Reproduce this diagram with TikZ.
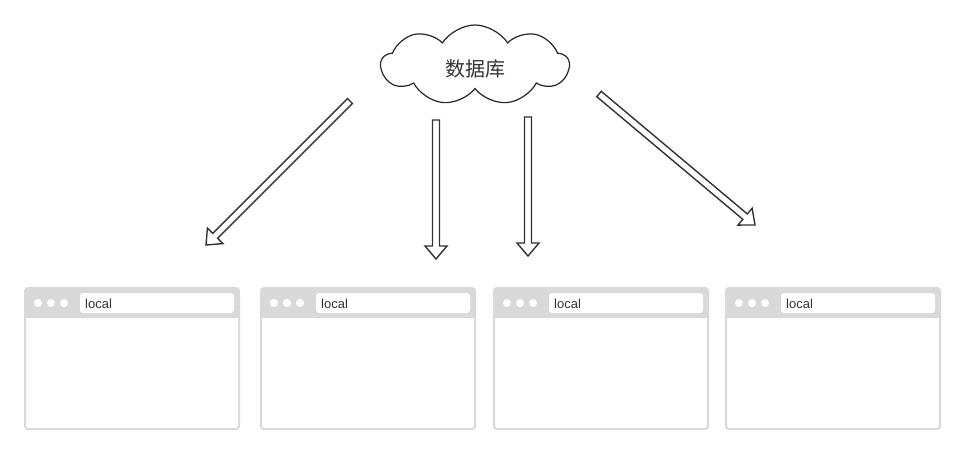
\documentclass[tikz,border=0pt]{standalone}
\usepackage{fontspec}
\setmainfont{Liberation Sans}
\newfontfamily\cjk{Noto Sans CJK SC}
\usetikzlibrary{shapes.symbols,calc}

\definecolor{framegray}{HTML}{D9D9D9}
\definecolor{inkgray}{HTML}{333333}

\tikzset{
  window/.style={draw=framegray, line width=2pt, rounded corners=3pt,
    minimum width=214pt, minimum height=141pt, inner sep=0pt},
  bar/.style={fill=framegray},
  urlfield/.style={fill=white, rounded corners=3pt},
  urltext/.style={anchor=west, inner sep=0pt, text=inkgray,
    font=\fontsize{13}{15}\selectfont},
  dbcloud/.style={cloud, cloud puffs=9, cloud puff arc=115, aspect=2.4,
    draw=black!85, line width=1.2pt, minimum width=188pt, minimum height=80pt,
    text height=26pt, text depth=3pt,
    text=inkgray, font=\cjk\fontsize{20}{22}\selectfont},
  hollow/.style={draw=inkgray, line width=1.4pt, fill=white, line join=miter}
}

% hollow arrow from #1 to #2
\newcommand\fatarrow[2]{%
  \coordinate (#1neck) at ($(#2)!13pt!(#1)$);
  \draw[hollow] ($(#1)!3.5pt!90:(#2)$) -- ($(#1neck)!3.5pt!90:(#2)$)
    -- ($(#1neck)!11pt!90:(#2)$) -- (#2) -- ($(#1neck)!11pt!-90:(#2)$)
    -- ($(#1neck)!3.5pt!-90:(#2)$) -- ($(#1)!3.5pt!-90:(#2)$) -- cycle;
}

\begin{document}
\begin{tikzpicture}[x=1pt, y=-1pt]
    \useasboundingbox (0,0) rectangle (965,454);

    % Database
    \node[dbcloud] (db) at (475,65) {数据库};

    % Browser windows
    \foreach \i/\x in {1/25, 2/261, 3/494, 4/726} {
        \fill[bar, rounded corners=3pt] (\x,288) rectangle ++(214,30);
        \fill[bar] (\x,300) rectangle ++(214,18);
        \node[window] (w\i) at (\x+107,358.5) {};
        \fill[urlfield] (\x+55,293) rectangle (\x+209,313);
        \node[urltext] (u\i) at (\x+60,303.5) {local};
        \foreach \d in {13, 26, 39}
            \fill[white] (\x+\d,303) circle (4pt);
    }

    % Arrows
    \coordinate (s1) at (350,101);  \coordinate (t1) at (206,245);
    \coordinate (s2) at (436,120);  \coordinate (t2) at (436,259);
    \coordinate (s3) at (528,117);  \coordinate (t3) at (528,256);
    \coordinate (s4) at (599,94);   \coordinate (t4) at (755,225);
    \fatarrow{s1}{t1}
    \fatarrow{s2}{t2}
    \fatarrow{s3}{t3}
    \fatarrow{s4}{t4}

\end{tikzpicture}
\end{document}
